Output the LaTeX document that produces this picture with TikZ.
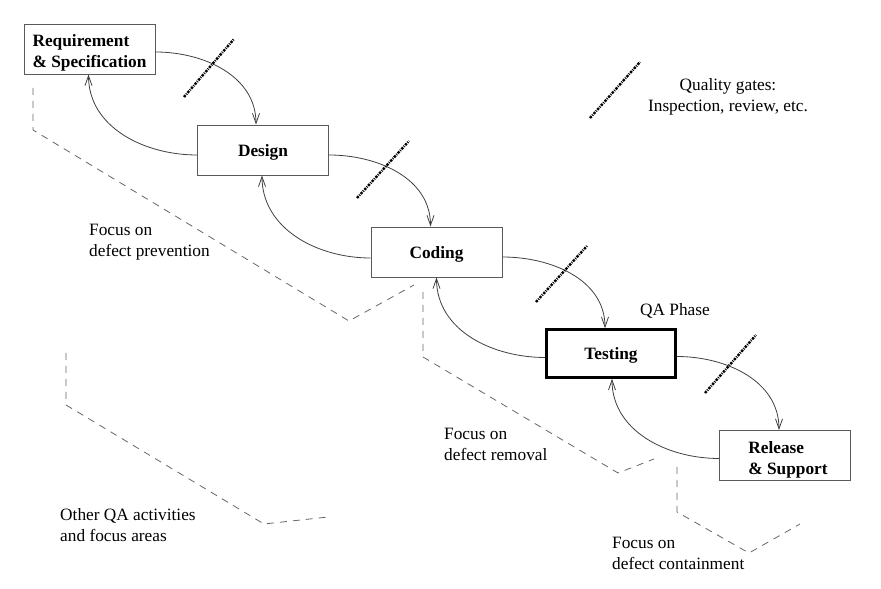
\documentclass[tikz,border=0pt]{standalone}
\usepackage{fontspec}
\setmainfont{Liberation Serif}
\usetikzlibrary{arrows.meta,calc}
\begin{document}
\begin{tikzpicture}[x=1pt,y=1pt,
  txt/.style={font=\fontsize{17.3}{21}\selectfont, inner sep=0pt, align=left},
  boxtxt/.style={inner sep=0pt, align=left, font=\fontsize{17.3}{21}\selectfont\bfseries},
  phase/.style={draw=black!65, line width=0.9pt, minimum width=131pt, minimum height=50pt, inner sep=0pt},
  qaphase/.style={phase, draw=black, line width=2.6pt, minimum width=129pt, minimum height=48pt},
  flow/.style={draw=black!75, line width=0.8pt, -{Straight Barb[length=10pt,width=7pt,line width=0.8pt]}},
  gate/.style={draw=black, line width=2.4pt, dash pattern=on 2.4pt off 1.1pt on 0.9pt off 1.1pt},
  area/.style={draw=black!60, line width=0.8pt, dash pattern=on 7pt off 6pt}]
\useasboundingbox (0,0) rectangle (881,589);

% phases
\node[phase, label={[boxtxt, yshift=-4pt]center:{Requirement\\\& Specification}}] (Req) at (89.5,540) {};
\node[phase, label={[boxtxt, yshift=-2pt]center:{Design}}] (Des) at (263,439) {};
\node[phase, label={[boxtxt, yshift=-2pt]center:{Coding}}] (Cod) at (436.5,337) {};
\node[qaphase, label={[boxtxt, yshift=-2pt]center:{Testing}}] (Tst) at (611,235.5) {};
\node[phase, label={[boxtxt, yshift=-4pt, xshift=3pt]center:{Release\\\& Support}}] (Rel) at (785,133.5) {};

% forward flow
\draw[flow] ($(Req.east)+(0,-3)$) to[out=0,in=90] ($(Des.north)+(-7,0)$);
\draw[flow] ($(Des.east)+(0,-5)$) to[out=0,in=90] ($(Cod.north)+(-6,0)$);
\draw[flow] ($(Cod.east)+(0,-5)$) to[out=0,in=90] ($(Tst.north)+(-6,0)$);
\draw[flow] ($(Tst.east)+(0,-3)$) to[out=0,in=90] ($(Rel.north)+(-6,0)$);

% feedback flow
\draw[flow] ($(Des.west)+(0,-5)$) to[out=180,in=-90] ($(Req.south)+(-1,0)$);
\draw[flow] ($(Cod.west)+(0,-6)$) to[out=180,in=-90] ($(Des.south)+(-1,0)$);
\draw[flow] ($(Tst.west)+(0,-4)$) to[out=180,in=-90] ($(Cod.south)+(0,0)$);
\draw[flow] ($(Rel.west)+(0,-3)$) to[out=180,in=-90] ($(Tst.south)+(1,0)$);

% quality gates
\draw[gate] (184,492) -- (234,550);
\draw[gate] (357,391) -- (409,448);
\draw[gate] (536,287) -- (587,343);
\draw[gate] (705,196) -- (756,254);
\draw[gate] (590,471) -- (640,527);

% focus areas
\draw[area] (33,501) -- (33,459) -- (349,268) -- (414,304);
\draw[area] (423,297) -- (423,232) -- (618,116) -- (654,130);
\draw[area] (677,122) -- (677,77) -- (749,36) -- (800,65);
\draw[area] (66,236) -- (66,184) -- (264,65) -- (328,72);

% labels
\node[txt, align=center] (legend) at (728,492) {Quality gates:\\Inspection, review, etc.};
\node[txt, anchor=west] (prev) at (89,346.5) {Focus on\\defect prevention};
\node[txt] (qa) at (675,278) {QA Phase};
\node[txt, anchor=west] (rem) at (444,144.5) {Focus on\\defect removal};
\node[txt, anchor=west] (other) at (60,64) {Other QA activities\\and focus areas};
\node[txt, anchor=west] (cont) at (612,35.5) {Focus on\\defect containment};
\end{tikzpicture}
\end{document}
